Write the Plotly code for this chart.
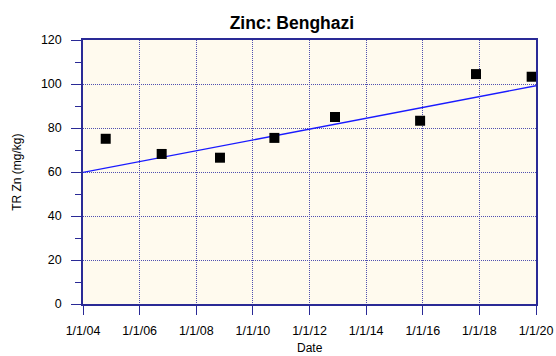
import plotly.graph_objects as go

# Sample dates and total recoverable zinc concentrations (mg/kg)
sample_dates = ["2004-10-20", "2006-10-12", "2008-11-02", "2010-10-05",
                "2012-11-25", "2015-11-28", "2017-11-18", "2019-11-06"]
zinc_values = [75.1, 68.2, 66.5, 75.5, 85.0, 83.3, 104.5, 103.3]

# Linear trend endpoints
trend_dates = ["2004-01-01", "2020-01-01"]
trend_values = [59.8, 99.2]

y_ticks = [0, 20, 40, 60, 80, 100, 120]

axis_color = "#2a2a96"
grid_color = "#5050b0"
font_family = "Liberation Sans, Arial, sans-serif"

fig = go.Figure()

fig.add_trace(go.Scatter(
    x=trend_dates, y=trend_values, mode="lines",
    line=dict(color="#1a1aff", width=1.3),
    showlegend=False, hoverinfo="skip",
))

fig.add_trace(go.Scatter(
    x=sample_dates, y=zinc_values, mode="markers",
    marker=dict(symbol="square", size=10, color="black",
                line=dict(width=0)),
    showlegend=False,
))

fig.update_layout(
    width=556, height=356,
    margin=dict(l=83, r=20, t=40, b=52),
    paper_bgcolor="white",
    plot_bgcolor="#fffaee",
    font=dict(family=font_family, size=12, color="black"),
    title=dict(text="<b>Zinc: Benghazi</b>", x=0.525, xanchor="center",
               y=0.937, yanchor="middle",
               font=dict(family=font_family, size=17.5, color="black")),
)

# Axis titles placed as paper annotations
fig.add_annotation(text="TR Zn (mg/kg)", textangle=-90,
                   xref="paper", yref="paper", x=-0.146, y=0.5,
                   xanchor="center", yanchor="middle", showarrow=False,
                   font=dict(size=12, color="black"))
fig.add_annotation(text="Date", xref="paper", yref="paper", x=0.5, y=-0.168,
                   xanchor="center", yanchor="middle", showarrow=False,
                   font=dict(size=12, color="black"))

fig.update_xaxes(
    type="date",
    range=["2004-01-01", "2020-01-01"],
    tick0="2004-01-01", dtick="M24",
    tickformat="%-m/%-d/%y",
    ticks="outside", ticklen=9, tickwidth=1.2, tickcolor=axis_color,
    ticklabelstandoff=5,
    showline=True, linecolor=axis_color, linewidth=1.5, mirror=True,
    showgrid=True, gridcolor=grid_color, griddash="1px,1px", gridwidth=1,
    zeroline=False, automargin=False,
    tickfont=dict(size=12.5, color="black"),
)

fig.update_yaxes(
    range=[0, 120],
    tickvals=y_ticks,
    ticks="outside", ticklen=10, tickwidth=1.2, tickcolor=axis_color,
    ticklabelstandoff=7,
    minor=dict(dtick=10, ticks="outside", ticklen=6, tickcolor=axis_color,
               showgrid=False),
    showline=True, linecolor=axis_color, linewidth=1.5, mirror=True,
    showgrid=True, gridcolor=grid_color, griddash="1px,1px", gridwidth=1,
    zeroline=False, automargin=False,
    tickfont=dict(size=12.5, color="black"),
)

fig.write_html("out.html")
